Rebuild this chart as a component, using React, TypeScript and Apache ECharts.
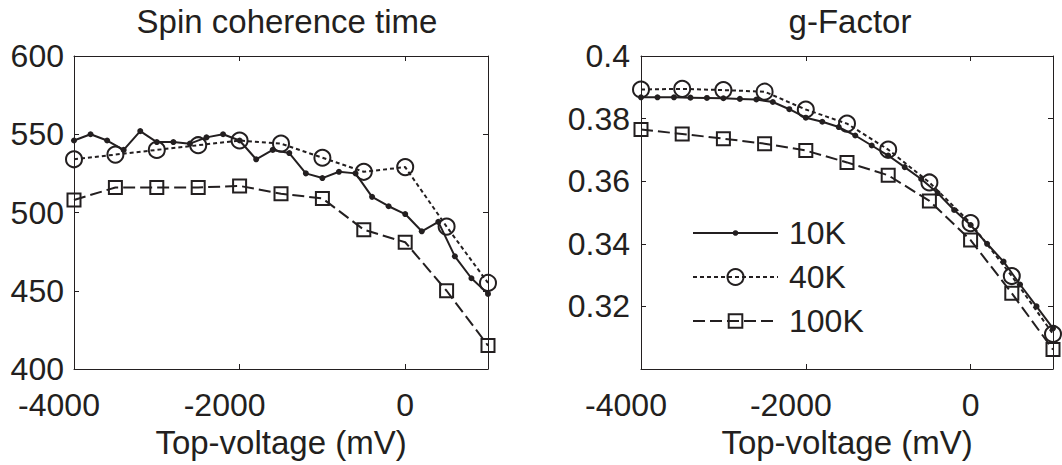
import React, { useEffect, useRef } from 'react';
import * as echarts from 'echarts';

// Top-voltage (mV)
const voltsFine = [-4000, -3800, -3600, -3400, -3200, -3000, -2800, -2600, -2400, -2200, -2000, -1800, -1600, -1400, -1200, -1000, -800, -600, -400, -200, 0, 200, 400, 600, 800, 1000];
const voltsCoarse = [-4000, -3500, -3000, -2500, -2000, -1500, -1000, -500, 0, 500, 1000];

// Spin coherence time
const spin10K = [546, 550, 546, 540, 552, 545, 545, 544, 548, 550, 546, 534, 540, 538, 525, 522, 526, 525, 510, 504, 499, 488, 494, 472, 458, 448];
const spin40K = [534, 537, 540, 543, 546, 544, 535, 526, 529, 491, 455];
const spin100K = [508, 516, 516, 516, 517, 512, 509, 489, 481, 450, 415];

// g-Factor
const g10K = [0.3868, 0.3868, 0.3868, 0.3867, 0.3866, 0.3865, 0.3863, 0.3861, 0.3853, 0.383, 0.3803, 0.379, 0.3773, 0.3746, 0.3714, 0.3682, 0.3645, 0.3607, 0.3562, 0.3508, 0.346, 0.34, 0.3343, 0.327, 0.32, 0.313];
const g40K = [0.3893, 0.3895, 0.3891, 0.3886, 0.3829, 0.3784, 0.3701, 0.3596, 0.3466, 0.3297, 0.3112];
const g100K = [0.3765, 0.3751, 0.3736, 0.372, 0.3698, 0.366, 0.3619, 0.3537, 0.3412, 0.3242, 0.3062];

const seriesNames = ['10K', '40K', '100K'];
const titles = ['Spin coherence time', 'g-Factor'];
const xAxisName = 'Top-voltage (mV)';

const FONT = "'Liberation Sans', Arial, Helvetica, sans-serif";
const INK = '#231f20';
const CLEAR = 'rgba(0,0,0,0)';

const pairs = (xs: number[], ys: number[]) => xs.map((x, i) => [x, ys[i]]);

const xLabel = {
  show: true,
  margin: 20,
  fontSize: 32,
  lineHeight: 32,
  fontFamily: FONT,
  color: INK,
  formatter: (v: number) => (v === 1000 ? '' : v < 0 ? `{neg|${v}}` : `{pos|${v}}`),
  rich: {
    neg: { fontSize: 32, lineHeight: 32, fontFamily: FONT, color: INK, padding: [0, 30, 0, 0] },
    pos: { fontSize: 32, lineHeight: 32, fontFamily: FONT, color: INK },
  },
};

const axisLine = { show: true, onZero: false, lineStyle: { color: INK, width: 1 } };
const axisTick = { show: true, inside: true, length: 5, lineStyle: { color: INK, width: 1 } };

function makeX(grid: number) {
  return [
    {
      gridIndex: grid, type: 'value', min: -4000, max: 1000, interval: 2000, position: 'bottom',
      axisLine, axisTick, axisLabel: xLabel, splitLine: { show: false },
      name: xAxisName, nameLocation: 'middle', nameGap: 56,
      nameTextStyle: { fontSize: 33, fontFamily: FONT, color: INK },
    },
    {
      gridIndex: grid, type: 'value', min: -4000, max: 1000, interval: 2000, position: 'top',
      axisLine, axisTick, axisLabel: { show: false }, splitLine: { show: false },
    },
  ];
}

function makeY(grid: number, min: number, max: number, interval: number, fmt: (v: number) => string, margin: number) {
  return [
    {
      gridIndex: grid, type: 'value', min, max, interval, position: 'left',
      axisLine, axisTick, splitLine: { show: false },
      axisLabel: { show: true, margin, fontSize: 32, fontFamily: FONT, color: INK, formatter: fmt },
    },
    {
      gridIndex: grid, type: 'value', min, max, interval, position: 'right',
      axisLine, axisTick, splitLine: { show: false }, axisLabel: { show: false },
    },
  ];
}

const styles = [
  { symbol: 'circle', symbolSize: 6, itemStyle: { color: INK }, lineStyle: { color: INK, width: 2, type: 'solid' } },
  { symbol: 'circle', symbolSize: 16, itemStyle: { color: CLEAR, borderColor: INK, borderWidth: 2 }, lineStyle: { color: INK, width: 2, type: [4, 3] } },
  { symbol: 'rect', symbolSize: 13, itemStyle: { color: CLEAR, borderColor: INK, borderWidth: 2 }, lineStyle: { color: INK, width: 2, type: [12, 5] } },
];

function makeSeries(name: string, idx: number, axis: number, data: number[][], z: number) {
  const s = styles[idx];
  return {
    type: 'line', name, xAxisIndex: axis, yAxisIndex: axis, data, clip: false, z,
    symbol: s.symbol, symbolSize: s.symbolSize, showSymbol: true, showAllSymbol: true,
    itemStyle: s.itemStyle, lineStyle: s.lineStyle, emphasis: { disabled: true },
  };
}

const legendRows = [
  { name: seriesNames[0], top: 217, itemHeight: 7 },
  { name: seriesNames[1], top: 261, itemHeight: 20 },
  { name: seriesNames[2], top: 305, itemHeight: 17 },
];

export default function App() {
  const ref = useRef<HTMLDivElement>(null);
  useEffect(() => {
    if (!ref.current) return;
    const chart = echarts.init(ref.current, undefined, { renderer: 'svg' });
    const option: any = {
      animation: false,
      backgroundColor: '#ffffff',
      graphic: [
        { type: 'text', x: 287, y: 21, style: { text: titles[0], align: 'center', verticalAlign: 'middle', fontSize: 33, fontFamily: FONT, fill: INK } },
        { type: 'text', x: 850, y: 21, style: { text: titles[1], align: 'center', verticalAlign: 'middle', fontSize: 33, fontFamily: FONT, fill: INK } },
      ],
      grid: [
        { left: 74, top: 56, width: 414, height: 313, containLabel: false },
        { left: 641, top: 56, width: 412, height: 313, containLabel: false },
      ],
      xAxis: [...makeX(0), ...makeX(1)],
      yAxis: [
        ...makeY(0, 400, 600, 50, (v: number) => String(v), 10),
        ...makeY(1, 0.3, 0.4, 0.02, (v: number) => (v < 0.301 ? '' : String(Number(v.toFixed(2)))), 11),
      ],
      legend: legendRows.map((r) => ({
        data: [r.name], left: 692, top: r.top, orient: 'vertical', padding: 0,
        itemWidth: 85, itemHeight: r.itemHeight, selectedMode: false,
        textStyle: { fontSize: 32, lineHeight: 32, fontFamily: FONT, color: INK, padding: [0, 0, 0, 6] },
      })),
      series: [
        makeSeries(seriesNames[0], 0, 0, pairs(voltsFine, spin10K), 3),
        makeSeries(seriesNames[1], 1, 0, pairs(voltsCoarse, spin40K), 2),
        makeSeries(seriesNames[2], 2, 0, pairs(voltsCoarse, spin100K), 2),
        makeSeries(seriesNames[0], 0, 2, pairs(voltsFine, g10K), 3),
        makeSeries(seriesNames[1], 1, 2, pairs(voltsCoarse, g40K), 2),
        makeSeries(seriesNames[2], 2, 2, pairs(voltsCoarse, g100K), 2),
      ],
    };
    chart.setOption(option);
    return () => chart.dispose();
  }, []);
  return <div ref={ref} style={{ position: 'absolute', left: 0, top: 0, width: 1062, height: 465 }} />;
}
